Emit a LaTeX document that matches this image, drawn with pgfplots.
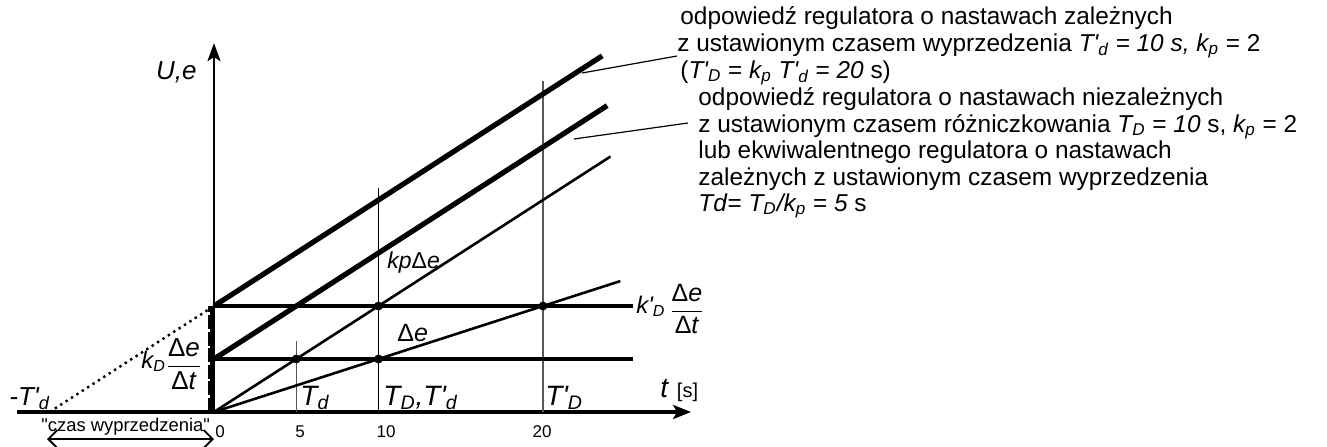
\documentclass[border=0pt]{standalone}
\usepackage{pgfplots}
\pgfplotsset{compat=1.18}
\usepackage{fontspec}
\setmainfont{Liberation Sans}
\usetikzlibrary{arrows.meta}
\newcommand{\lo}[1]{\textsubscript{#1}}
\newcommand{\ap}{\textquotesingle}
\newcommand{\fr}[2]{$\displaystyle\frac{\mbox{#1}}{\mbox{#2}}$}
\newcommand{\fs}[1]{\fontsize{#1}{#1}\selectfont}
\begin{document}
\begin{tikzpicture}
\begin{axis}[
  x=8.225pt, y=2.65pt,
  xmin=-13, xmax=30, ymin=-3, ymax=72,
  hide axis, clip=false,
  at={(107pt,17pt)}, anchor=origin,
]
% time axis and output axis
\draw[line width=2pt, -{Stealth[length=9pt,width=7pt,inset=2pt]}] (axis cs:-12,0) -- (axis cs:29,0);
\draw[line width=1.1pt, -{Stealth[length=9pt,width=6.5pt,inset=2pt]}] (axis cs:0,0) -- (axis cs:0,69.6);
% guide lines at Td, TD = T'd and T'D
\addplot[black!65, line width=0.6pt] coordinates {(5,0) (5,13.4)};
\addplot[black, line width=0.6pt] coordinates {(10,0) (10,42.3)};
\addplot[black!65, line width=0.6pt] coordinates {(20,0) (20,62.5)};
% derivative action levels
\addplot[line width=2pt] coordinates {(0,10) (25.5,10)};
\addplot[line width=2pt] coordinates {(0,20) (25.5,20)};
% ramp error and proportional part
\addplot[line width=1.3pt] coordinates {(0,0) (24.7,24.7)};
\addplot[line width=1.3pt] coordinates {(0,0) (24.1,48.2)};
% controller responses
\addplot[line width=2.6pt] coordinates {(0,10) (23.9,57.8)};
\addplot[line width=2.6pt] coordinates {(0,20) (23.6,67.2)};
% back-extrapolation to -T'd
\addplot[line width=1.2pt, dotted] coordinates {(-10,0) (0,20)};
% derivative jump at t = 0
\addplot[line width=3pt, dash pattern=on 7pt off 1.3pt] coordinates {(-0.2,0) (-0.2,20)};
\addplot[line width=1.8pt] coordinates {(-0.11,0) (-0.11,20)};
% intersection points
\addplot[only marks, mark=*, mark size=2pt] coordinates {(5,10) (10,10) (10,20) (20,20)};
\end{axis}
\begin{scope}[x=0.5pt,y=-0.5pt,shift={(0pt,223pt)}]
\tikzset{every node/.style={inner sep=0pt, anchor=base west}}
% leaders
\draw[line width=0.6pt] (582,73) -- (677,56);
\draw[line width=0.6pt] (574,139) -- (688,123);
% axis labels
\node[anchor=base east, font=\fs{13}\itshape] at (197,79) {U,e};
\node[font=\fs{14}] at (660,397) {\textit{t} {\fs{10}[s]}};
\node[font=\fs{13}\itshape] at (9,405) {-T\ap\lo{d}};
% tick labels
\foreach \px/\t in {220/0, 300/5, 386/10, 542/20}
  \node[anchor=base, font=\fs{8.5}] at (\px,437) {\t};
\node[font=\fs{9.2}] at (41,431) {\textquotedbl czas wyprzedzenia\textquotedbl};
\draw[line width=0.9pt, {Straight Barb[length=4.5pt,width=9pt]}-{Straight Barb[length=4.5pt,width=9pt]}] (47,439) -- (214,439);
% time constants
\node[font=\fs{14}\itshape] at (300,405) {T\lo{d}};
\node[font=\fs{14}\itshape] at (383,405) {T\lo{D},T\ap\lo{d}};
\node[font=\fs{14}\itshape] at (545,405) {T\ap\lo{D}};
% curve labels
\node[font=\fs{11.5}] at (387,268) {\textit{kp}Δ\textit{e}};
\node[font=\fs{12.5}] at (397,341) {Δ\textit{e}};
\node[font=\fs{12}\itshape] at (141,368) {k\lo{D}};
\node[anchor=center, font=\fs{13}] at (184,364) {\fr{Δ\textit{e}}{Δ\textit{t}}};
\node[font=\fs{12}\itshape] at (636,313) {k\ap\lo{D}};
\node[anchor=center, font=\fs{12.5}] at (687,309) {\fr{Δ\textit{e}}{Δ\textit{t}}};
% descriptions
\begin{scope}[every node/.append style={font=\fs{12.2}}]
\node at (680,24) {odpowiedź regulatora o nastawach zależnych};
\node at (677,51) {z ustawionym czasem wyprzedzenia \textit{T\ap\lo{d} = 10 s, k\lo{p}} = 2};
\node at (680,78) {(\textit{T\ap\lo{D}} = \textit{k\lo{p} T\ap\lo{d}} = \textit{20} s)};
\node at (698,105) {odpowiedź regulatora o nastawach niezależnych};
\node at (698,132) {z ustawionym czasem różniczkowania \textit{T\lo{D}} = \textit{10} s, \textit{k\lo{p}} = 2};
\node at (698,158) {lub ekwiwalentnego regulatora o nastawach};
\node at (698,185) {zależnych z ustawionym czasem wyprzedzenia};
\node at (698,211) {\textit{Td}= \textit{T\lo{D}/k\lo{p}} = \textit{5} s};
\end{scope}
\end{scope}
\pgfresetboundingbox
\path[use as bounding box] (0,0) rectangle (663.5pt,223pt);
\end{tikzpicture}
\end{document}
